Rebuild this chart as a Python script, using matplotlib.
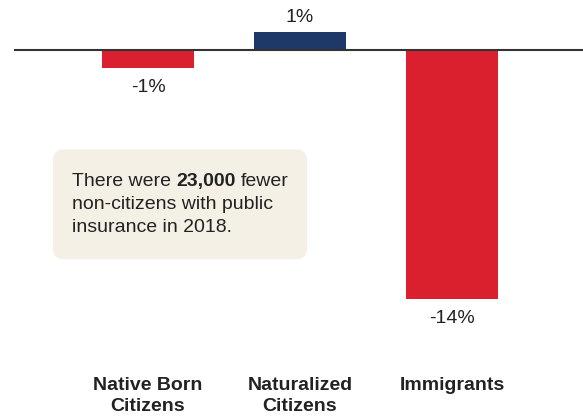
import matplotlib
matplotlib.use("Agg")
import matplotlib.pyplot as plt
from matplotlib.patches import FancyBboxPatch
import matplotlib.transforms as mtransforms

plt.rcParams['font.family'] = ['Liberation Sans', 'DejaVu Sans']

# change in public insurance coverage, percent
groups = ["Native Born\nCitizens", "Naturalized\nCitizens", "Immigrants"]
change = [-1, 1, -14]
labels = ["-1%", "1%", "-14%"]
colors = ["#DA202F", "#1E3968", "#DA202F"]

W, H = 583, 416
fig = plt.figure(figsize=(W / 100, H / 100), dpi=100)
ax = fig.add_axes([0, 0, 1, 1])

px_per_unit = 152.0   # horizontal pixels between categories
px_per_pct = 17.8     # vertical pixels per percentage point
ax.set_xlim(-148 / px_per_unit, (W - 148) / px_per_unit)
ax.set_ylim(-(H - 50) / px_per_pct, 50 / px_per_pct)
ax.axis('off')

x = list(range(len(groups)))
ax.bar(x, change, width=92 / px_per_unit, color=colors, zorder=2)
ax.axhline(0, xmin=14.5 / W, xmax=1, color='#333333', lw=1.5, zorder=3)

for xi, v, lab in zip(x, change, labels):
    if v >= 0:
        ax.annotate(lab, (xi, v), xytext=(0, 4.5), textcoords='offset points',
                    ha='center', va='bottom', fontsize=14, color='#222222')
    else:
        ax.annotate(lab, (xi, v), xytext=(0, -8), textcoords='offset points',
                    ha='center', va='top', fontsize=14, color='#222222')

# category names under the chart
cat_trans = mtransforms.blended_transform_factory(ax.transData, fig.transFigure)
for xi, g in zip(x, groups):
    ax.text(xi, 1 - 376.5 / H, g, transform=cat_trans, ha='center', va='top',
            fontsize=14, fontweight='bold', color='#222222', linespacing=1.38,
            multialignment='center')

# callout box
box = FancyBboxPatch((0.53, (H - 259.3) / 100), 2.54, 1.10,
                     boxstyle="round,pad=0,rounding_size=0.11",
                     transform=fig.dpi_scale_trans, facecolor='#F4F0E6',
                     edgecolor='none', zorder=1)
ax.add_patch(box)

tx = 71.7 / W
t1 = ax.text(tx, 1 - 185.7 / H, "There were", transform=fig.transFigure,
             va='baseline', ha='left', fontsize=14, color='#222222', zorder=4)
t2 = ax.annotate("23,000", xy=(1, 0), xycoords=t1, xytext=(3.9, 0),
                 textcoords='offset points', va='bottom', ha='left',
                 fontsize=14, fontweight='bold', color='#222222', zorder=4)
ax.annotate("fewer", xy=(1, 0), xycoords=t2, xytext=(3.9, 0),
            textcoords='offset points', va='bottom', ha='left',
            fontsize=14, color='#222222', zorder=4)
ax.text(tx, 1 - 209.0 / H, "non-citizens with public", transform=fig.transFigure,
        va='baseline', ha='left', fontsize=14, color='#222222', zorder=4)
ax.text(tx, 1 - 232.4 / H, "insurance in 2018.", transform=fig.transFigure,
        va='baseline', ha='left', fontsize=14, color='#222222', zorder=4)

fig.savefig("out.png", dpi=100)
